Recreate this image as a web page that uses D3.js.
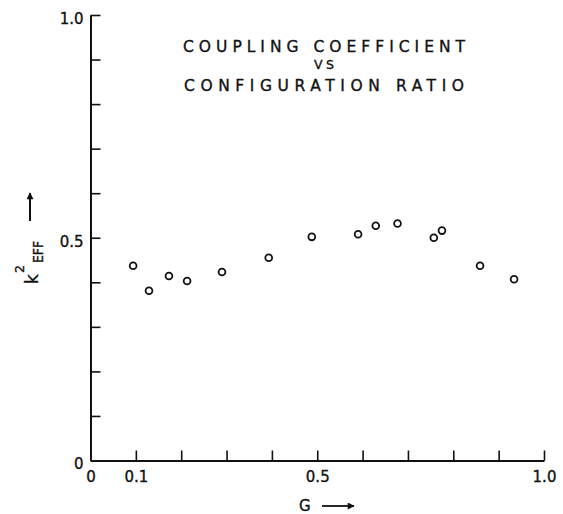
<!DOCTYPE html>
<html>
<head>
<meta charset="utf-8">
<script src="https://cdn.jsdelivr.net/npm/d3@7"></script>
<style>
  body { margin: 0; background: #fff; }
  text { font-family: "DejaVu Sans", sans-serif; fill: #111; stroke: #111; stroke-width: 0.35px; }
</style>
</head>
<body>
<svg id="chart"></svg>
<script>
// G (configuration ratio) and k^2 eff
const gValues = [0.094, 0.129, 0.173, 0.213, 0.290, 0.393, 0.488, 0.590, 0.629, 0.677, 0.757, 0.775, 0.859, 0.934];
const kValues = [0.437, 0.381, 0.414, 0.403, 0.423, 0.455, 0.502, 0.508, 0.527, 0.532, 0.500, 0.516, 0.437, 0.407];
const tickValues = [0, 0.1, 0.2, 0.3, 0.4, 0.5, 0.6, 0.7, 0.8, 0.9, 1.0];
const xLabels = ["0", "0.1", "0.5", "1.0"];
const yLabels = ["0", "0.5", "1.0"];
const titleLines = ["COUPLING COEFFICIENT", "VS", "CONFIGURATION RATIO"];

const data = gValues.map((g, i) => ({ g, k: kValues[i] }));

const svg = d3.select("#chart")
  .attr("width", 563)
  .attr("height", 514);

svg.append("rect").attr("width", 563).attr("height", 514).attr("fill", "#fff");

const xScale = d3.scaleLinear().domain([0, 1]).range([90.5, 544]);
const yScale = d3.scaleLinear().domain([0, 1]).range([460.5, 15]);

const fmt = d => d === 0 ? "0" : d.toFixed(1);

const xAxis = d3.axisBottom(xScale)
  .tickValues(tickValues)
  .tickSizeInner(-10)
  .tickSizeOuter(0)
  .tickPadding(11)
  .tickFormat(d => xLabels.includes(fmt(d)) ? fmt(d) : "");

const yAxis = d3.axisLeft(yScale)
  .tickValues(tickValues)
  .tickSizeInner(-10)
  .tickSizeOuter(0)
  .tickPadding(7)
  .tickFormat(d => yLabels.includes(fmt(d)) ? fmt(d) : "");

const gx = svg.append("g")
  .attr("transform", `translate(0,${yScale(0)})`)
  .call(xAxis);

const gy = svg.append("g")
  .attr("transform", `translate(${xScale(0)},0)`)
  .call(yAxis);

[gx, gy].forEach(g => {
  g.select(".domain").attr("stroke", "#111").attr("stroke-width", 2);
  g.selectAll(".tick line").attr("stroke", "#111").attr("stroke-width", 1.6);
  g.selectAll(".tick text")
    .attr("fill", "#111")
    .style("font-size", "15px")
    .style("font-family", "'DejaVu Sans', sans-serif");
});
gy.selectAll(".tick text").attr("dy", "0.55em");

// points
svg.append("g")
  .selectAll("circle")
  .data(data)
  .enter()
  .append("circle")
  .attr("cx", d => xScale(d.g))
  .attr("cy", d => yScale(d.k))
  .attr("r", 3.4)
  .attr("fill", "#fff")
  .attr("stroke", "#111")
  .attr("stroke-width", 1.8);

// title
const titleY = [52, 69, 91];
const titleW = [282, 20, 280];
const titleSize = [15.5, 12.5, 15.5];
titleLines.forEach((t, i) => {
  svg.append("text")
    .attr("x", 324)
    .attr("y", titleY[i])
    .attr("text-anchor", "middle")
    .style("font-size", titleSize[i] + "px")
    .attr("textLength", titleW[i])
    .attr("lengthAdjust", "spacing")
    .text(t);
});

// x axis label
svg.append("text")
  .attr("x", 299)
  .attr("y", 511)
  .style("font-size", "15px")
  .text("G");

svg.append("defs").append("marker")
  .attr("id", "arrow")
  .attr("viewBox", "0 0 10 10")
  .attr("refX", 9)
  .attr("refY", 5)
  .attr("markerWidth", 10)
  .attr("markerHeight", 7)
  .attr("markerUnits", "userSpaceOnUse")
  .attr("orient", "auto")
  .append("path")
  .attr("d", "M0,0 L10,5 L0,10 Z")
  .attr("fill", "#111");

svg.append("line")
  .attr("x1", 322).attr("y1", 506)
  .attr("x2", 354).attr("y2", 506)
  .attr("stroke", "#111").attr("stroke-width", 1.8)
  .attr("marker-end", "url(#arrow)");

// y axis label, rotated
const yl = svg.append("g").attr("transform", "translate(38,284) rotate(-90)");
yl.append("text").attr("x", 0).attr("y", 0).style("font-size", "17px").text("k");
yl.append("text").attr("x", 11).attr("y", -14).style("font-size", "12.5px").text("2");
yl.append("text").attr("x", 21).attr("y", 5).style("font-size", "14px")
  .attr("textLength", 22).attr("lengthAdjust", "spacingAndGlyphs").text("EFF");

svg.append("line")
  .attr("x1", 30).attr("y1", 221)
  .attr("x2", 30).attr("y2", 193)
  .attr("stroke", "#111").attr("stroke-width", 2)
  .attr("marker-end", "url(#arrow)");
</script>
</body>
</html>
